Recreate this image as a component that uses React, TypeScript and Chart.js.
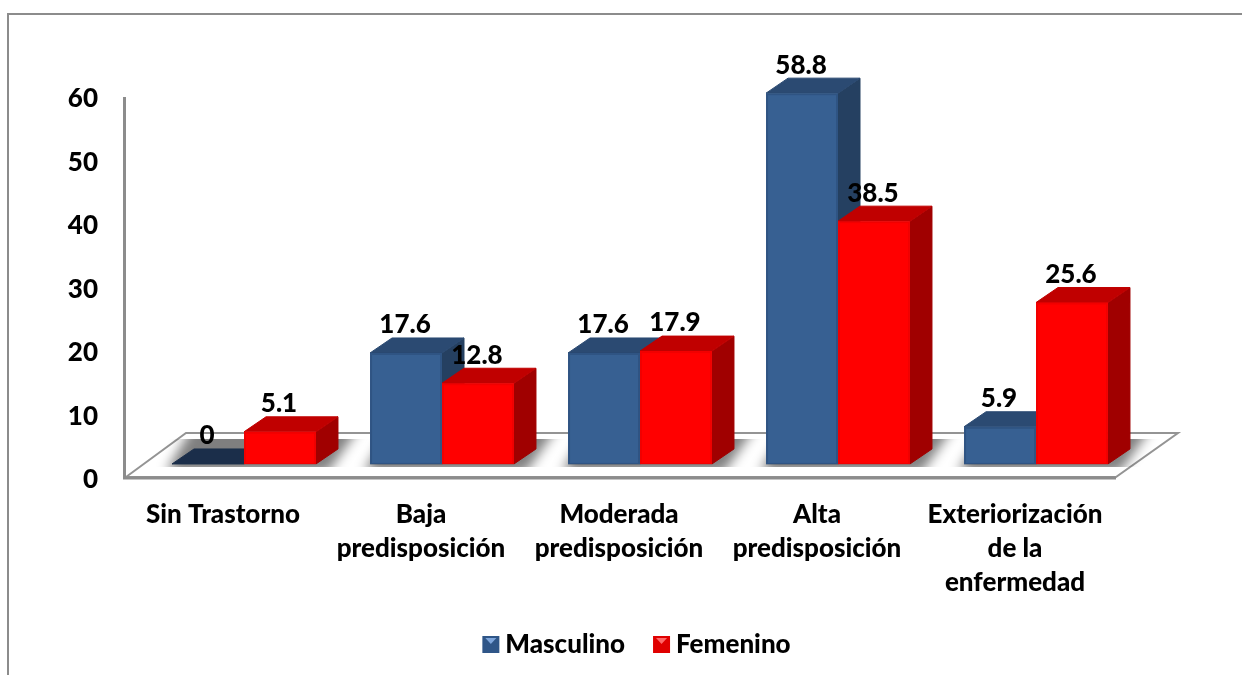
import React, { useEffect, useRef } from "react";
import { Chart, registerables } from "chart.js";

Chart.register(...registerables);

const categories: (string | string[])[] = [
  "Sin Trastorno",
  ["Baja", "predisposición"],
  ["Moderada", "predisposición"],
  ["Alta", "predisposición"],
  ["Exteriorización", "de la", "enfermedad"],
];
const masculino = [0, 17.6, 17.6, 58.8, 5.9];
const femenino = [5.1, 12.8, 17.9, 38.5, 25.6];
const seriesNames = ["Masculino", "Femenino"];
const yTickValues = [0, 10, 20, 30, 40, 50, 60];

const FONT = "Lato";
const WEIGHT = "900";
const SIZE = 26;
const DX = 22;
const DY = 15;
const LEGEND_SHIFT = 54;

const palette = [
  { front: "#376092", side: "#254061", top: "#2b4a72", zero: "#1b2e4a", edge: "rgba(30,55,95,0.3)", mark: "#7ea6dc", legend: "#2f5688" },
  { front: "#ff0000", side: "#a00000", top: "#c00000", zero: "#c00000", edge: "rgba(190,0,0,0.22)", mark: "#ff6a6a", legend: "#e00000" },
];

function poly(ctx: CanvasRenderingContext2D, pts: number[][], fill?: string) {
  ctx.beginPath();
  pts.forEach((p, i) => (i ? ctx.lineTo(p[0], p[1]) : ctx.moveTo(p[0], p[1])));
  ctx.closePath();
  if (fill) {
    ctx.fillStyle = fill;
    ctx.fill();
    ctx.strokeStyle = fill;
    ctx.lineWidth = 1;
    ctx.lineJoin = "round";
    ctx.stroke();
  }
}

const scenePlugin = {
  id: "scene",
  afterLayout(chart: any) {
    const lg = chart.legend;
    lg.left += LEGEND_SHIFT;
    lg.right += LEGEND_SHIFT;
    lg.legendHitBoxes.forEach((h: any) => {
      h.left += LEGEND_SHIFT;
    });
  },
  beforeDatasetsDraw(chart: any) {
    const { ctx, chartArea: a } = chart;
    const base = chart.scales.yb.getPixelForValue(0);
    ctx.save();
    // outer frame
    ctx.strokeStyle = "#8c8c8c";
    ctx.lineWidth = 2;
    ctx.beginPath();
    ctx.moveTo(8, 675);
    ctx.lineTo(8, 14);
    ctx.lineTo(1242, 14);
    ctx.stroke();
    // floor
    const floor = [
      [a.left - 19, a.bottom - 1],
      [a.left + 41, a.bottom - 45],
      [a.right + 43, a.bottom - 45],
      [a.right - 19, a.bottom - 1],
    ];
    poly(ctx, floor);
    ctx.fillStyle = "#ffffff";
    ctx.fill();
    ctx.strokeStyle = "#949494";
    ctx.lineWidth = 2;
    ctx.lineJoin = "miter";
    ctx.stroke();
    // wall
    ctx.strokeStyle = "#8c8c8c";
    ctx.lineWidth = 3;
    ctx.beginPath();
    ctx.moveTo(a.left - 20.5, a.top);
    ctx.lineTo(a.left - 20.5, a.bottom);
    ctx.lineTo(a.right - 19, a.bottom);
    ctx.stroke();
    // floor shadows: a soft band with a crisp back edge
    ctx.save();
    ctx.beginPath();
    ctx.rect(a.left - 19, base - 25, a.right - a.left + 62, 28);
    ctx.clip();
    ctx.filter = "blur(6px)";
    const m = chart.getDatasetMeta(0).data;
    const f = chart.getDatasetMeta(1).data;
    m.forEach((bar: any, i: number) => {
      const l = bar.x - bar.width / 2;
      const r = f[i].x + f[i].width / 2;
      ctx.beginPath();
      ctx.moveTo(l - 6, base + 8);
      ctx.lineTo(l + 22, base - 40);
      ctx.lineTo(r + 46, base - 40);
      ctx.lineTo(r + 12, base + 8);
      ctx.closePath();
      ctx.fillStyle = "rgba(0,0,0,0.5)";
      ctx.fill();
    });
    ctx.filter = "none";
    ctx.restore();
    // depth faces
    [0, 1].forEach((d) => {
      const c = palette[d];
      chart.getDatasetMeta(d).data.forEach((bar: any) => {
        const l = bar.x - bar.width / 2;
        const r = bar.x + bar.width / 2;
        const t = bar.y;
        const b = bar.base;
        if (Math.abs(b - t) < 0.5) {
          poly(ctx, [[l, b], [l + DX, b - DY], [r + DX, b - DY], [r, b]], c.zero);
          return;
        }
        poly(ctx, [[r, t], [r + DX, t - DY], [r + DX, b - DY], [r, b]], c.side);
        poly(ctx, [[l, t], [l + DX, t - DY], [r + DX, t - DY], [r, t]], c.top);
      });
    });
    ctx.restore();
  },
  afterDatasetsDraw(chart: any) {
    const { ctx } = chart;
    ctx.save();
    // soft bevel on front faces
    [0, 1].forEach((d) => {
      chart.getDatasetMeta(d).data.forEach((bar: any) => {
        if (Math.abs(bar.base - bar.y) < 0.5) return;
        const l = bar.x - bar.width / 2;
        ctx.strokeStyle = palette[d].edge;
        ctx.lineWidth = 2;
        ctx.strokeRect(l + 1, bar.y + 1, bar.width - 2, bar.base - bar.y - 1);
      });
    });
    // value labels
    ctx.fillStyle = "#000000";
    ctx.font = `${WEIGHT} ${SIZE}px ${FONT}`;
    ctx.textAlign = "center";
    ctx.textBaseline = "middle";
    chart.data.datasets.forEach((ds: any, d: number) => {
      chart.getDatasetMeta(d).data.forEach((bar: any, i: number) => {
        ctx.fillText(String(ds.data[i]), bar.x - 1, bar.y - 28);
      });
    });
    ctx.restore();
  },
  afterDraw(chart: any) {
    const { ctx } = chart;
    const boxes = chart.legend?.legendHitBoxes || [];
    ctx.save();
    boxes.forEach((h: any, i: number) => {
      const x = h.left;
      const y = Math.round(h.top + (h.height - 17) / 2);
      ctx.clearRect(x, y - 2, 17, 21);
      ctx.fillStyle = palette[i].legend;
      ctx.fillRect(x, y - 1, 17, 17);
      ctx.beginPath();
      ctx.moveTo(x + 3, y + 1);
      ctx.lineTo(x + 14, y + 1);
      ctx.lineTo(x + 8.5, y + 7);
      ctx.closePath();
      ctx.fillStyle = palette[i].mark;
      ctx.fill();
    });
    ctx.restore();
  },
};

export default function App() {
  const ref = useRef<HTMLCanvasElement>(null);
  useEffect(() => {
    const chart = new Chart(ref.current as HTMLCanvasElement, {
      type: "bar",
      data: {
        labels: categories as any,
        datasets: [
          { label: seriesNames[0], data: masculino, backgroundColor: palette[0].front, borderWidth: 0, yAxisID: "yb", clip: false as any },
          { label: seriesNames[1], data: femenino, backgroundColor: palette[1].front, borderWidth: 0, yAxisID: "yb", clip: false as any },
        ],
      },
      options: {
        responsive: false,
        animation: false,
        layout: { padding: { top: 97, left: 30, right: 107, bottom: 7 } },
        datasets: { bar: { barPercentage: 1, categoryPercentage: 0.727 } },
        scales: {
          x: {
            grid: { display: false, drawTicks: false },
            border: { display: false },
            ticks: {
              color: "#000000",
              maxRotation: 0,
              autoSkip: false,
              padding: 20,
              labelOffset: -21,
              font: { family: FONT, weight: WEIGHT, size: SIZE, lineHeight: 34 / SIZE },
            },
            afterFit(s: any) {
              s.height = 126;
            },
          },
          y: {
            position: "left",
            min: 0,
            max: 60,
            grid: { display: false, drawTicks: false },
            border: { display: false },
            afterBuildTicks(s: any) {
              s.ticks = yTickValues.map((value) => ({ value }));
            },
            ticks: {
              color: "#000000",
              padding: 47,
              labelOffset: 2,
              font: { family: FONT, weight: WEIGHT, size: SIZE },
            },
            afterFit(s: any) {
              s.width = 115;
            },
          },
          yb: {
            display: false,
            min: -2.226,
            max: 58.19,
          },
        },
        plugins: {
          tooltip: { enabled: false },
          legend: {
            display: true,
            position: "bottom",
            labels: {
              boxWidth: 10,
              boxHeight: 17,
              padding: 28,
              color: "#000000",
              font: { family: FONT, weight: WEIGHT, size: SIZE },
            },
          },
        },
      } as any,
      plugins: [scenePlugin as any],
    });
    return () => chart.destroy();
  }, []);
  return (
    <canvas
      ref={ref}
      width={1242}
      height={675}
      style={{ position: "absolute", left: 0, top: 0, display: "block" }}
    />
  );
}
